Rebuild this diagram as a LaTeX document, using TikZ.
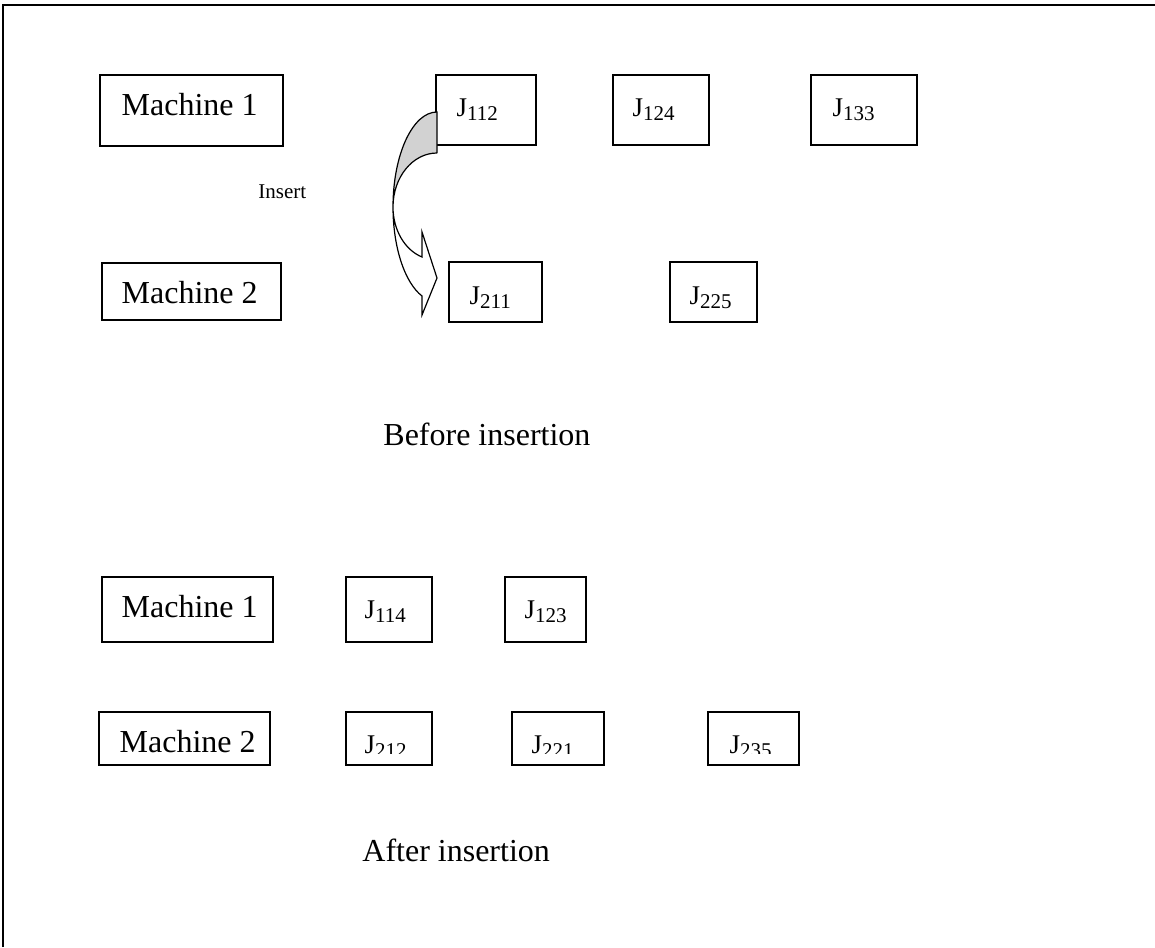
\documentclass[tikz,border=0pt]{standalone}
\usepackage{fontspec}
\setmainfont{Liberation Serif}
\usetikzlibrary{fit,calc}
% job label: J with a lowered index
\newcommand\jlabel[1]{J\raisebox{-2pt}{\fontsize{10.5}{12}\selectfont #1}}
\begin{document}
\begin{tikzpicture}[x=0.5pt,y=-0.5pt,
  box/.style={draw, line width=0.7pt, inner sep=0pt},
  lbl/.style={inner sep=0pt, anchor=base west, font=\fontsize{16}{19}\selectfont},
  joblbl/.style={inner sep=0pt, anchor=base west, font=\fontsize{13.5}{16}\selectfont},
  smalllbl/.style={inner sep=0pt, anchor=base west, font=\fontsize{10.5}{12}\selectfont},
  ribbon/.style={draw, line width=0.6pt, line join=miter}]
\useasboundingbox (0,0) rectangle (1155,947);

% page frame (top and left edges)
\draw[line width=0.9pt] (3,947) -- (3,5) -- (1155,5);

% ---------- before insertion ----------
\node[box, fit={(100,75) (283,146)}] (m1a) {};
\node[box, fit={(436,75) (536,145)}] (j112) {};
\node[box, fit={(613,75) (709,145)}] (j124) {};
\node[box, fit={(811,75) (917,145)}] (j133) {};
\node[box, fit={(102,263) (281,320)}] (m2a) {};
\node[box, fit={(449,262) (542,322)}] (j211) {};
\node[box, fit={(670,262) (757,322)}] (j225) {};

\node[lbl] (tm1a) at ($(m1a.north west)+(22,41)$) {Machine 1};
\node[joblbl] (tj112) at ($(j112.north west)+(21,42)$) {\jlabel{112}};
\node[joblbl] (tj124) at ($(j124.north west)+(20,42)$) {\jlabel{124}};
\node[joblbl] (tj133) at ($(j133.north west)+(22,42)$) {\jlabel{133}};
\node[lbl] (tm2a) at ($(m2a.north west)+(20,41)$) {Machine 2};
\node[joblbl] (tj211) at ($(j211.north west)+(21,43)$) {\jlabel{211}};
\node[joblbl] (tj225) at ($(j225.north west)+(20,43)$) {\jlabel{225}};

\node[smalllbl] (ins) at (258,198) {Insert};
\node[lbl] (before) at (383,445) {Before insertion};

% curved ribbon arrow from J112 down to J211
\coordinate (p1) at (437,112);
\coordinate (p2) at (437,153);
\coordinate (lf) at (393,207);
\coordinate (e1) at (422,296);
\coordinate (e2) at (422,257);
\fill[gray!35] (p1) .. controls (412.7,112) and (393,154.5) .. (lf)
  .. controls (393,177.2) and (412.7,153) .. (p2) -- cycle;
\draw[ribbon] (p2) -- (p1)
  .. controls (412.7,112) and (393,154.5) .. (lf)
  .. controls (393,246.9) and (404.6,282.6) .. (e1)
  -- (422,315) -- (437,278) -- (422,232) -- (e2)
  .. controls (404.6,249.9) and (393,229.7) .. (lf)
  .. controls (393,177.2) and (412.7,153) .. (p2);

% ---------- after insertion ----------
\node[box, fit={(102,577) (273,642)}] (m1b) {};
\node[box, fit={(346,577) (432,642)}] (j114) {};
\node[box, fit={(505,577) (586,642)}] (j123) {};
\node[box, fit={(99,712) (270,765)}] (m2b) {};
\node[box, fit={(346,712) (432,765)}] (j212) {};
\node[box, fit={(512,712) (604,765)}] (j221) {};
\node[box, fit={(708,712) (799,765)}] (j235) {};

\node[lbl] (tm1b) at ($(m1b.north west)+(20,41)$) {Machine 1};
\node[joblbl] (tj114) at ($(j114.north west)+(19,42)$) {\jlabel{114}};
\node[joblbl] (tj123) at ($(j123.north west)+(20,42)$) {\jlabel{123}};
\node[lbl] (tm2b) at ($(m2b.north west)+(21,41)$) {Machine 2};
\begin{scope}
  % the job labels in this row are cut off at the bottom
  \clip (340,705) rectangle (805,753);
  \node[joblbl] (tj212) at ($(j212.north west)+(19,42)$) {\jlabel{212}};
  \node[joblbl] (tj221) at ($(j221.north west)+(20,42)$) {\jlabel{221}};
  \node[joblbl] (tj235) at ($(j235.north west)+(22,42)$) {\jlabel{235}};
\end{scope}

\node[lbl] (after) at (362,861) {After insertion};
\end{tikzpicture}
\end{document}
